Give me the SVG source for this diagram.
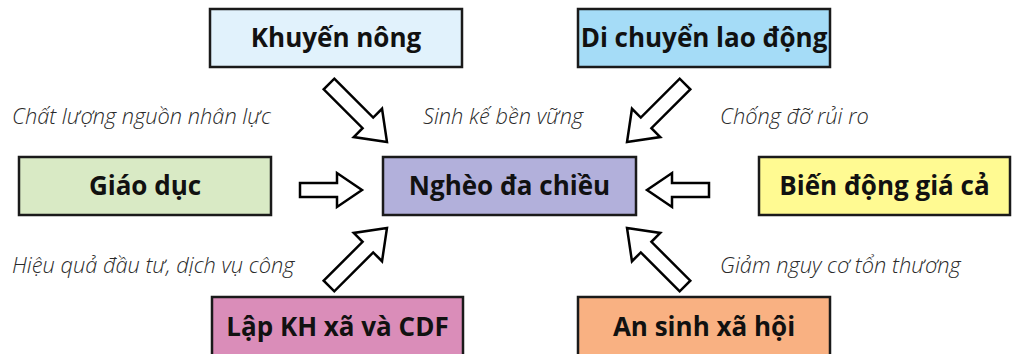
<svg xmlns="http://www.w3.org/2000/svg" width="1013" height="354" viewBox="0 0 1013 354">
  <style>
    .box { stroke: #1a1a1a; stroke-width: 2.5; }
    .title { font-family: "Open Sans", "Noto Sans", "Liberation Sans", sans-serif; font-weight: 700; font-size: 26px; fill: #111; text-anchor: middle; }
    .note { font-family: "Open Sans", "Noto Sans", "Liberation Sans", sans-serif; font-style: italic; font-weight: 300; font-size: 21.8px; fill: #2a2a2a; }
    .arrow { fill: #fff; stroke: #000; stroke-width: 2.5; stroke-linejoin: miter; }
  </style>
  <defs>
    <!-- block arrows pointing along +x, origin at tail centre -->
    <path id="arrH" d="M0,-7 H37 V-17 L62,0 L37,17 V7 H0 Z"/>
    <path id="arrD" d="M0,-7.5 H55 V-20 L82,0 L55,20 V7.5 H0 Z"/>
  </defs>

  <rect width="1013" height="354" fill="#fff"/>

  <!-- connectors -->
  <g id="connectors" class="arrow">
    <use href="#arrD" transform="translate(329,84) rotate(45)"/>
    <use href="#arrD" transform="translate(685,84) rotate(135)"/>
    <use href="#arrH" transform="translate(300,190)"/>
    <use href="#arrH" transform="translate(709,190) rotate(180)"/>
    <use href="#arrD" transform="translate(329,286) rotate(-45)"/>
    <use href="#arrD" transform="translate(685,286) rotate(-135)"/>
  </g>

  <!-- relation labels -->
  <g id="labels">
    <text class="note" x="12" y="124">Chất lượng nguồn nhân lực</text>
    <text class="note" x="423" y="124">Sinh kế bền vững</text>
    <text class="note" x="720" y="124">Chống đỡ rủi ro</text>
    <text class="note" x="12" y="273">Hiệu quả đầu tư, dịch vụ công</text>
    <text class="note" x="720" y="273">Giảm nguy cơ tổn thương</text>
  </g>

  <g id="khuyen-nong">
    <rect class="box" x="210" y="9" width="252" height="58" fill="#E1F2FC"/>
    <text class="title" x="336" y="47">Khuyến nông</text>
  </g>
  <g id="di-chuyen-lao-dong">
    <rect class="box" x="578" y="9" width="252" height="58" fill="#A5DCF7"/>
    <text class="title" x="704" y="47">Di chuyển lao động</text>
  </g>
  <g id="giao-duc">
    <rect class="box" x="19" y="157" width="252" height="58" fill="#D9EAC5"/>
    <text class="title" x="145" y="195">Giáo dục</text>
  </g>
  <g id="ngheo-da-chieu">
    <rect class="box" x="383" y="157" width="253" height="58" fill="#B2B0DB"/>
    <text class="title" x="509.5" y="195">Nghèo đa chiều</text>
  </g>
  <g id="bien-dong-gia-ca">
    <rect class="box" x="759" y="157" width="251" height="58" fill="#FFFA92"/>
    <text class="title" x="884.5" y="195">Biến động giá cả</text>
  </g>
  <g id="lap-kh">
    <rect class="box" x="212" y="297" width="251" height="60" fill="#DA8DB9"/>
    <text class="title" x="337.5" y="336">Lập KH xã và CDF</text>
  </g>
  <g id="an-sinh-xa-hoi">
    <rect class="box" x="578" y="297" width="252" height="60" fill="#F9B182"/>
    <text class="title" x="704" y="336">An sinh xã hội</text>
  </g>
</svg>
